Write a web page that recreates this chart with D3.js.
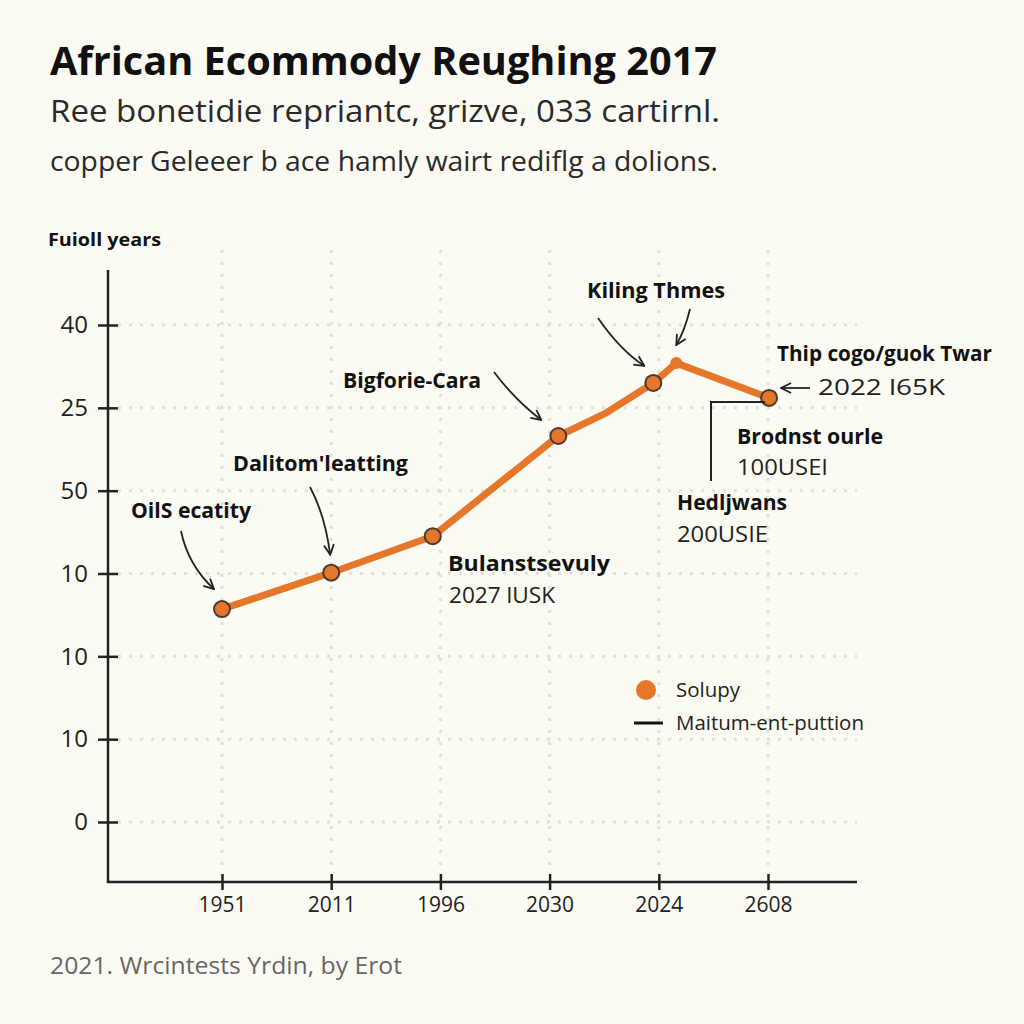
<!DOCTYPE html>
<html><head><meta charset="utf-8">
<script src="https://cdn.jsdelivr.net/npm/d3@7"></script>
<style>
html,body{margin:0;padding:0;background:#fcfbf3;}
svg{display:block;}
text{font-family:"Open Sans","Noto Sans",sans-serif;}
</style></head>
<body>
<svg id="c" width="1024" height="1024"></svg>
<script>
// ---- data ----
const xTickLabels = ["1951","2011","1996","2030","2024","2608"];
const yTickLabels = ["0","10","10","10","50","25","40"];
const seriesX = [0, 1, 1.93, 3.08, 3.52, 3.95, 4.16, 5.01];
const seriesY = [2.57, 3.01, 3.45, 4.66, 4.94, 5.30, 5.54, 5.12];
const markerKind = ["full","full","full","full","none","full","small","full"];

const svg = d3.select("#c");
const W = 1024, H = 1024;
svg.append("rect").attr("width",W).attr("height",H).attr("fill","#fcfbf3");

const x = d3.scaleLinear().domain([0,5]).range([222,768]);
const y = d3.scaleLinear().domain([0,6]).range([822,325]);
const axisX0 = 108, axisY0 = 882, axisXEnd = 857, axisYTop = 270;

function fitText(sel, len){ sel.attr("textLength",len).attr("lengthAdjust","spacingAndGlyphs"); return sel; }
fitText(svg.append("text").attr("x",50).attr("y",75).attr("font-size",40).attr("font-weight",700)
  .attr("fill","#111").text("African Ecommody Reughing 2017"), 667);
fitText(svg.append("text").attr("x",50).attr("y",122).attr("font-size",31)
  .attr("fill","#2a2a2a").text("Ree bonetidie repriantc, grizve, 033 cartirnl."), 670);
fitText(svg.append("text").attr("x",50).attr("y",171).attr("font-size",27)
  .attr("fill","#2a2a2a").text("copper Geleeer b ace hamly wairt rediflg a dolions."), 668);

fitText(svg.append("text").attr("x",48).attr("y",246).attr("font-size",18).attr("font-weight",700)
  .attr("fill","#111").text("Fuioll years"), 113);

// Grid
const g = svg.append("g");
g.selectAll(".hg").data(d3.range(yTickLabels.length)).join("line")
  .attr("x1",axisX0+10).attr("x2",axisXEnd).attr("y1",d=>y(d)).attr("y2",d=>y(d))
  .attr("stroke","#e0e0d8").attr("stroke-width",3).attr("stroke-dasharray","3,8");
g.selectAll(".vg").data(d3.range(xTickLabels.length)).join("line")
  .attr("x1",d=>x(d)).attr("x2",d=>x(d)).attr("y1",250).attr("y2",axisY0-10)
  .attr("stroke","#e0e0d8").attr("stroke-width",3).attr("stroke-dasharray","3,9");

// Axes
const yAxis = d3.axisLeft(y).tickValues(d3.range(yTickLabels.length)).tickFormat((d,i)=>yTickLabels[i])
  .tickSizeInner(10).tickSizeOuter(0).tickPadding(10);
const ya = svg.append("g").attr("transform",`translate(${axisX0},0)`).call(yAxis);
ya.select(".domain").remove();
ya.selectAll(".tick line").attr("x1",10).attr("x2",-10).attr("stroke","#222").attr("stroke-width",2.5);
ya.selectAll(".tick text").attr("font-size",24).attr("fill","#222")
  .attr("font-family","'Open Sans',sans-serif").attr("x",-20);
svg.append("line").attr("x1",axisX0).attr("x2",axisX0).attr("y1",axisYTop).attr("y2",axisY0+1)
  .attr("stroke","#222").attr("stroke-width",2.5);

const xAxis = d3.axisBottom(x).tickValues(d3.range(xTickLabels.length)).tickFormat((d,i)=>xTickLabels[i])
  .tickSizeInner(8).tickSizeOuter(0).tickPadding(10);
const xa = svg.append("g").attr("transform",`translate(0,${axisY0})`).call(xAxis);
xa.select(".domain").remove();
xa.selectAll(".tick line").attr("y1",-8).attr("y2",8).attr("stroke","#222").attr("stroke-width",2.5);
xa.selectAll(".tick text").attr("font-size",21).attr("fill","#222")
  .attr("font-family","'Open Sans',sans-serif").attr("y",15);
svg.append("line").attr("x1",axisX0-1).attr("x2",axisXEnd).attr("y1",axisY0).attr("y2",axisY0)
  .attr("stroke","#222").attr("stroke-width",2.5);

// Line series
const pts = seriesX.map((v,i)=>({x:v,y:seriesY[i],k:markerKind[i]}));
const line = d3.line().x(d=>x(d.x)).y(d=>y(d.y)).curve(d3.curveLinear);
svg.append("path").datum(pts).attr("d",line).attr("fill","none")
  .attr("stroke","#e5762a").attr("stroke-width",7).attr("stroke-linejoin","round").attr("stroke-linecap","round");
svg.selectAll(".pt").data(pts.filter(d=>d.k!=="none")).join("circle")
  .attr("cx",d=>x(d.x)).attr("cy",d=>y(d.y)).attr("r",d=>d.k==="small"?6:8)
  .attr("fill","#e5762a").attr("stroke",d=>d.k==="small"?"none":"#4a3a30").attr("stroke-width",2);

// Arrow marker
const defs = svg.append("defs");
defs.append("marker").attr("id","ah").attr("viewBox","0 0 12 12").attr("refX",11).attr("refY",6)
  .attr("markerWidth",12).attr("markerHeight",12).attr("markerUnits","userSpaceOnUse").attr("orient","auto")
  .append("path").attr("d","M1,1 L11,6 L1,11").attr("fill","none").attr("stroke","#222").attr("stroke-width",1.8);

function arrow(x1,y1,cx,cy,x2,y2){
  svg.append("path").attr("d",`M${x1},${y1} Q${cx},${cy} ${x2},${y2}`).attr("fill","none")
    .attr("stroke","#222").attr("stroke-width",1.8).attr("marker-end","url(#ah)");
}
function label(tx,ty,txt,bold,size,len){
  const t = svg.append("text").attr("x",tx).attr("y",ty).attr("font-size",size)
    .attr("font-weight",bold?700:400).attr("fill",bold?"#111":"#222").text(txt);
  if(len) fitText(t,len);
  return t;
}
const P = i=>[x(pts[i].x), y(pts[i].y)];

// Annotations
label(131,518,"OilS ecatity",true,21,120);
arrow(181,531, 188,565, P(0)[0]-8,P(0)[1]-20);

label(233,471,"Dalitom'leatting",true,21,175);
arrow(310,487, 325,515, P(1)[0]-1,P(1)[1]-18);

label(343,388,"Bigforie-Cara",true,21,138);
arrow(494,372, 515,400, P(3)[0]-17,P(3)[1]-16);

label(587,298,"Kiling Thmes",true,21,138);
arrow(598,318, 620,350, P(5)[0]-9,P(5)[1]-17);
arrow(690,309, 685,330, P(6)[0],P(6)[1]-18);

label(448,571,"Bulanstsevuly",true,21,162);
label(449,603,"2027 lUSK",false,22,106);

label(777,361,"Thip cogo/guok Twar",true,21,215);
svg.append("line").attr("x1",810).attr("x2",P(7)[0]+12).attr("y1",388).attr("y2",388)
  .attr("stroke","#222").attr("stroke-width",1.8).attr("marker-end","url(#ah)");
label(818,395,"2022 l65K",false,22,127);

svg.append("path").attr("d",`M711,481 L711,402 L${P(7)[0]-4},402`).attr("fill","none")
  .attr("stroke","#222").attr("stroke-width",2);
label(737,444,"Brodnst ourle",true,21,146);
label(737,475,"100USEI",false,22,91);
label(677,510,"Hedljwans",true,21,110);
label(677,542,"200USIE",false,22,91);

// Legend
svg.append("circle").attr("cx",646).attr("cy",690).attr("r",10).attr("fill","#e5762a");
label(676,697,"Solupy",false,20,64);
svg.append("line").attr("x1",634).attr("x2",663).attr("y1",723).attr("y2",723).attr("stroke","#111").attr("stroke-width",3);
label(676,730,"Maitum-ent-puttion",false,20,188);

// Footer
fitText(svg.append("text").attr("x",50).attr("y",974).attr("font-size",24).attr("fill","#666")
  .text("2021. Wrcintests Yrdin, by Erot"), 352);
</script>
</body></html>
